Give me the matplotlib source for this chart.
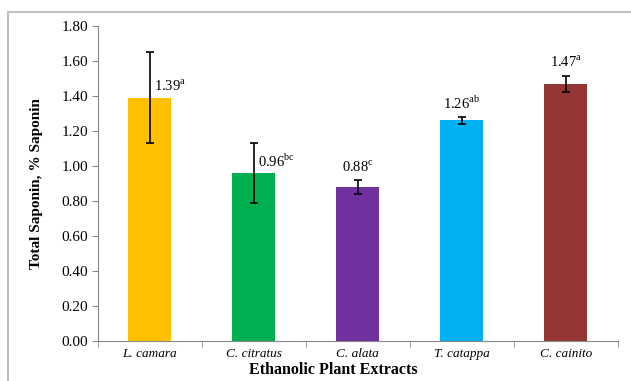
import matplotlib

matplotlib.use("Agg")

import matplotlib.pyplot as plt
from matplotlib.patches import Rectangle

plt.rcParams["font.family"] = "Liberation Serif"
plt.rcParams["mathtext.fontset"] = "custom"
plt.rcParams["mathtext.rm"] = "Liberation Serif"

extracts = ["L. camara", "C. citratus", "C. alata", "T. catappa", "C. cainito"]
saponin = [1.39, 0.96, 0.88, 1.26, 1.47]
errors = [0.26, 0.17, 0.04, 0.02, 0.045]
letters = ["a", "bc", "c", "ab", "a"]
colors = ["#FFC000", "#00B050", "#7030A0", "#00B0F0", "#943634"]
yticks = [0.0, 0.2, 0.4, 0.6, 0.8, 1.0, 1.2, 1.4, 1.6, 1.8]

fig = plt.figure(figsize=(6.31, 3.81), dpi=100)
ax = fig.add_axes([0.155, 0.105, 0.824, 0.827])

x = list(range(len(extracts)))
ax.bar(x, saponin, width=0.41, color=colors, zorder=2)
ax.errorbar(x, saponin, yerr=errors, fmt="none", ecolor="black",
            elinewidth=1.2, capsize=3, capthick=1.2, zorder=3)

# value labels with significance letters
for i, (v, e, l) in enumerate(zip(saponin, errors, letters)):
    txt = f"{v:.2f}$^{{\\mathrm{{{l}}}}}$"
    if e > 0.1:
        ax.text(i + 0.04, v + 0.065, txt, ha="left", va="center", fontsize=10.5)
    else:
        ax.text(i, v + e + 0.075, txt, ha="center", va="center", fontsize=10.5)

ax.set_xlim(-0.5, len(extracts) - 0.5)
ax.set_ylim(0, 1.8)
ax.set_yticks(yticks)
ax.set_yticklabels([f"{t:.2f}" for t in yticks], fontsize=11)
ax.set_xticks(x)
ax.set_xticklabels(extracts, fontsize=9.5, style="italic")
ax.set_xticks([i - 0.5 for i in range(len(extracts) + 1)], minor=True)
ax.tick_params(axis="x", which="major", length=0, pad=5)
ax.tick_params(axis="x", which="minor", length=4, color="#888888")
ax.tick_params(axis="y", length=4, color="#888888", pad=3)
for side in ["top", "right"]:
    ax.spines[side].set_visible(False)
for side in ["left", "bottom"]:
    ax.spines[side].set_color("#888888")

ax.set_ylabel("Total Saponin, % Saponin", fontsize=11, fontweight="bold")
ax.yaxis.set_label_coords(-0.105, 0.5)
ax.set_xlabel("Ethanolic Plant Extracts", fontsize=11.5, fontweight="bold")
ax.xaxis.set_label_coords(0.452, -0.068)

fig.patches.append(Rectangle((8 / 631, -0.05), 1.0, 1 - 12 / 381 + 0.05,
                             transform=fig.transFigure, fill=False,
                             edgecolor="#bfbfbf", linewidth=1.5))

fig.savefig("out.png", dpi=100)
